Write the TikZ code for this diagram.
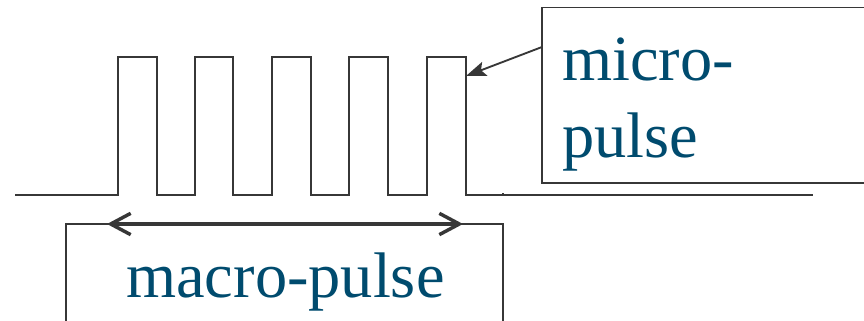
\documentclass[tikz,border=0pt]{standalone}
\usepackage{fontspec}
\setmainfont{Liberation Serif}
\usetikzlibrary{arrows.meta}
\definecolor{labelblue}{RGB}{0,75,110}
\definecolor{inkgray}{RGB}{55,55,55}
\tikzset{
  thinline/.style={draw=inkgray, line width=1.4pt},
  labeltext/.style={text=labelblue, inner sep=0pt,
    font=\fontsize{48.3}{58}\selectfont},
  spanarrow/.style={draw=inkgray, line width=2.6pt,
    {Straight Barb[length=15pt,width=16pt]}-{Straight Barb[length=15pt,width=16pt]}},
  pointarrow/.style={draw=inkgray, line width=1.4pt,
    -{Stealth[length=15pt,width=11pt,inset=3pt]}}
}
\begin{document}
\begin{tikzpicture}[x=0.75pt,y=-0.75pt]
\useasboundingbox (0,0) rectangle (864,321);

% signal baseline with the train of five micro-pulses
\draw[thinline] (15,195) -- (118,195)
  -- (118,57) -- (157,57) -- (157,195) -- (195,195)
  -- (195,57) -- (233,57) -- (233,195) -- (272,195)
  -- (272,57) -- (311,57) -- (311,195) -- (349,195)
  -- (349,57) -- (388,57) -- (388,195) -- (427,195)
  -- (427,57) -- (466,57) -- (466,195) -- (503,195);
\draw[thinline] (503,195) -- (813,195);
\draw[thinline] (503,193) -- (503,196);

% label frames
\draw[thinline] (864,7.5) -- (542,7.5) -- (542,183) -- (864,183);
\draw[thinline] (66,321) -- (66,224) -- (503,224) -- (503,321);

% labels
\node[labeltext, anchor=base west] (micro) at (562,81) {micro-};
\node[labeltext, anchor=base west] (pulse) at (562,157) {pulse};
\node[labeltext, anchor=base west] (macro) at (126,297) {macro-pulse};

% connectors
\coordinate (microtail) at (542,47);
\coordinate (pulsecorner) at (466,76);
\draw[pointarrow] (microtail) -- (pulsecorner);

\coordinate (spanleft) at (107,224);
\coordinate (spanright) at (463,224);
\draw[spanarrow] (spanleft) -- (spanright);
\end{tikzpicture}
\end{document}
